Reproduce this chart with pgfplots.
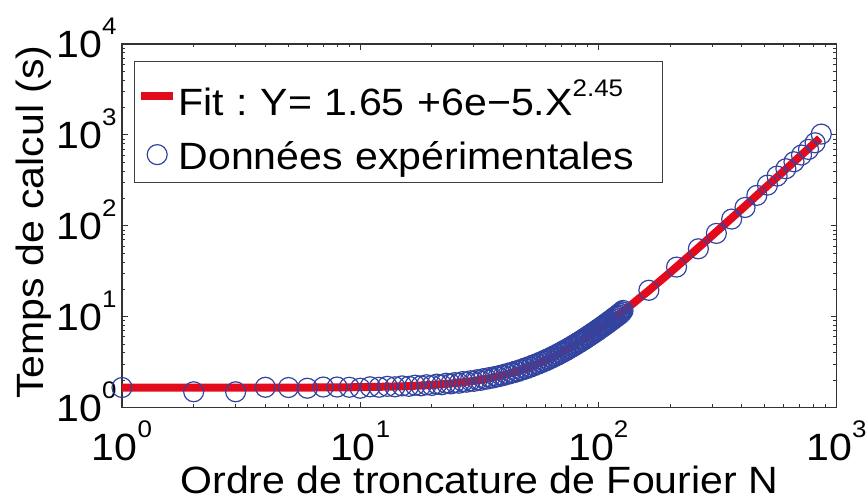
\documentclass[border=0pt]{standalone}
\usepackage{fontspec}
\setmainfont{Liberation Sans}[FakeStretch=1.08]
\usepackage{pgfplots}
\pgfplotsset{compat=1.18}

\definecolor{fitred}{RGB}{226,10,28}
\definecolor{datablue}{RGB}{50,68,160}
% MATLAB-like exponent labels
\newcommand{\pw}[1]{10\raisebox{11.5pt}{\fontsize{12}{12}\selectfont #1}}

\pgfplotsset{
    fitleg/.style={legend image code/.code={\path[draw=none] (0pt,0pt) -- (22pt,0pt); \draw[##1] (3.3pt,10pt) -- (19.3pt,10pt);}},
    dataleg/.style={legend image code/.code={\path[draw=none] (0pt,0pt) -- (22pt,0pt); \draw[##1] plot coordinates {(11.3pt,7.2pt)};}},
}

\begin{document}
\begin{tikzpicture}[font=\fontsize{19}{23}\selectfont\frenchspacing]
\begin{axis}[
    scale only axis, width=357.25pt, height=181.75pt,
    xmode=log, ymode=log,
    xmin=1, xmax=1000, ymin=1, ymax=10000,
    xtick={1,10,100,1000},
    xticklabels={\pw{0},\pw{1},\pw{2},\pw{3}},
    ytick={1,10,100,1000,10000},
    yticklabels={\pw{0},\pw{1},\pw{2},\pw{3},\pw{4}},
    minor xtick={2,3,4,5,6,7,8,9,20,30,40,50,60,70,80,90,200,300,400,500,600,700,800,900},
    minor ytick={2,3,4,5,6,7,8,9,20,30,40,50,60,70,80,90,200,300,400,500,600,700,800,900,2000,3000,4000,5000,6000,7000,8000,9000},
    tick pos=both, tick align=inside,
    major tick length=3pt, minor tick length=1.7pt,
    every tick/.style={black!80, line width=0.4pt},
    axis line style={black!80, line width=0.6pt},
    xticklabel style={anchor=base, inner sep=0pt, yshift=-26.25pt},
    yticklabel style={anchor=base east, inner sep=0pt, xshift=-2.5pt, yshift=-6.8pt},
    xlabel={Ordre de troncature de Fourier N},
    ylabel={Temps de calcul (s)},
    xlabel style={at={(axis description cs:0.5,0)}, anchor=base, inner sep=0pt, yshift=-43pt},
    ylabel style={at={(axis description cs:-0.0985,0.51)}, anchor=south, inner sep=0pt},
    clip=false,
    legend style={at={(axis description cs:0.0168,0.9532)}, anchor=north west,
        draw=black!75, line width=0.6pt, fill=white,
        inner xsep=0pt, inner ysep=6.7pt, row sep=6.4pt, column sep=0pt,
        nodes={inner sep=0pt, text height=20.3pt, text depth=0pt, text width=242pt, align=left},
        cells={anchor=base west}},
]

% fit
\addplot[fitred, line width=4pt, fitleg]
coordinates {
    (1,1.650) (2,1.6505) (5,1.654) (10,1.673) (15,1.710) (20,1.769) (25,1.853)
    (30,1.963) (35,2.103) (40,2.272) (45,2.474) (50,2.710) (60,3.287) (70,4.014)
    (80,4.901) (90,5.956) (100,7.185) (115,9.375) (127,11.44) (140,14.0) (163,19.4)
    (200,30.56) (250,50.88) (300,77.69) (400,152.7) (500,258.8) (600,398.9)
    (700,575.4) (800,790.7) (851,915)
};
\addlegendentry{Fit : Y= 1.65 +6e−5.X\raisebox{9.5pt}{\fontsize{12}{12}\selectfont 2.45}}

% experimental data
\addplot[only marks, mark=o, mark size=5pt, datablue, mark options={line width=0.6pt}, dataleg]
coordinates {
    (1,1.66) (2,1.49) (3,1.49) (4,1.67) (5,1.66) (6,1.63) (7,1.68) (8,1.68) (9,1.67) (10,1.63)
    (11,1.69) (12,1.67) (13,1.71) (14,1.69) (15,1.73) (16,1.71) (17,1.76) (18,1.73) (19,1.78) (20,1.75)
    (21,1.81) (22,1.78) (23,1.85) (24,1.82) (25,1.88) (26,1.85) (27,1.93) (28,1.90) (29,1.97) (30,1.94)
    (31,2.02) (32,1.99) (33,2.08) (34,2.05) (35,2.14) (36,2.11) (37,2.20) (38,2.18) (39,2.27) (40,2.25)
    (41,2.35) (42,2.33) (43,2.43) (44,2.41) (45,2.52) (46,2.49) (47,2.61) (48,2.59) (49,2.71) (50,2.68)
    (51,2.81) (52,2.79) (53,2.92) (54,2.90) (55,3.03) (56,3.01) (57,3.15) (58,3.13) (59,3.28) (60,3.25)
    (61,3.41) (62,3.38) (63,3.55) (64,3.52) (65,3.69) (66,3.66) (67,3.84) (68,3.81) (69,4.00) (70,3.97)
    (71,4.17) (72,4.13) (73,4.34) (74,4.30) (75,4.51) (76,4.48) (77,4.70) (78,4.66) (79,4.89) (80,4.85)
    (81,5.09) (82,5.05) (83,5.29) (84,5.25) (85,5.50) (86,5.46) (87,5.72) (88,5.67) (89,5.95) (90,5.90)
    (91,6.18) (92,6.13) (93,6.42) (94,6.36) (95,6.67) (96,6.61) (97,6.92) (98,6.86) (99,7.18) (100,7.11)
    (101,7.45) (102,7.38) (103,7.72) (104,7.65) (105,8.00) (106,7.93) (107,8.29) (108,8.21) (109,8.59) (110,8.51)
    (111,8.89) (112,8.81) (113,9.21) (114,9.12) (115,9.53) (116,9.44) (117,9.86) (118,9.76) (119,10.2) (120,10.1)
    (121,10.5) (122,10.4) (123,10.9) (124,10.8) (125,11.3) (126,11.3) (127,11.7)
    (163,19.5) (213,35.1) (263,55.8) (313,82.4) (363,118.5) (413,159) (463,216) (513,280)
    (563,352) (613,424) (663,506) (713,600) (763,692) (813,819) (863,1020)
};
\addlegendentry{Données expérimentales}

\end{axis}
\pgfresetboundingbox
\path ([shift={(-61pt,-45.75pt)}]current axis.south west) rectangle ([shift={(14.75pt,22pt)}]current axis.north east);
\end{tikzpicture}
\end{document}
